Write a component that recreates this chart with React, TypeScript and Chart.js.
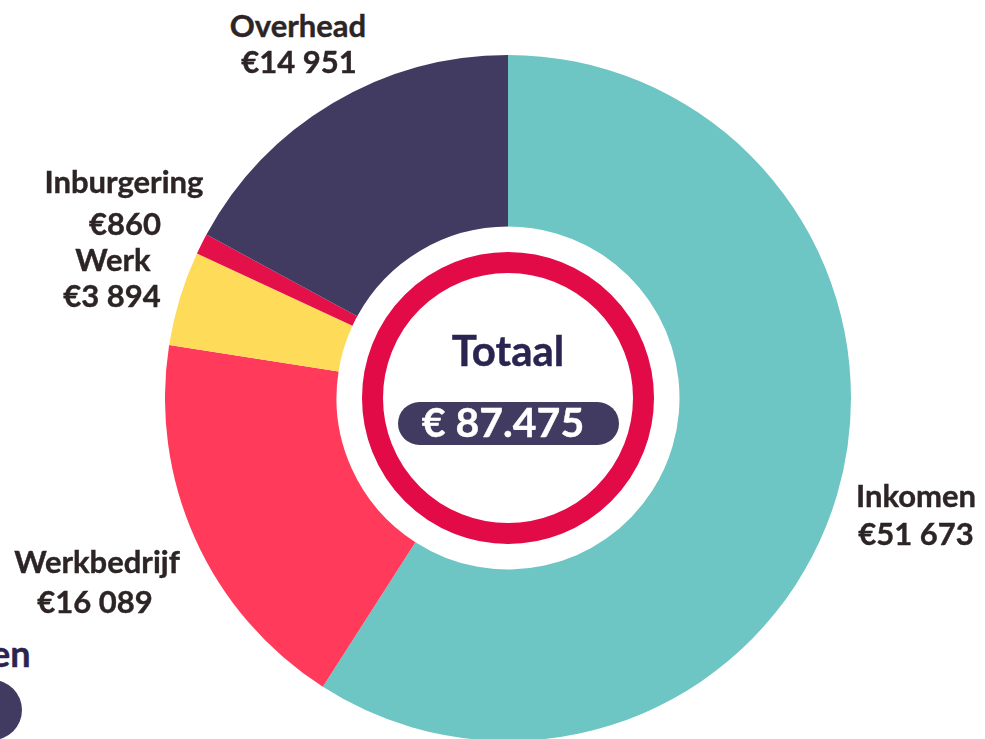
import React, { useEffect, useRef } from "react";
import { Chart, registerables } from "chart.js";

Chart.register(...registerables);

const categories = ["Inkomen", "Werkbedrijf", "Werk", "Inburgering", "Overhead"];
const amounts = [51673, 16089, 3894, 860, 14951];
const sliceColors = ["#6DC5C4", "#FF3A5B", "#FEDB58", "#E4104A", "#413A61"];
const totalLabel = "Totaal";
const totalAmount = 87475;

const fmtSpace = (v: number) => "€" + v.toLocaleString("en-US").replace(/,/g, " ");
const fmtDot = (v: number) => "€ " + v.toLocaleString("en-US").replace(/,/g, ".");

// label layout: center x, baseline y for name and value lines
const labelLayout: Record<string, { x: number; nameY: number; valX: number; valY: number }> = {
  Inkomen: { x: 916, nameY: 507, valX: 916, valY: 545 },
  Werkbedrijf: { x: 97, nameY: 573, valX: 95, valY: 613 },
  Werk: { x: 113, nameY: 271, valX: 112, valY: 307 },
  Inburgering: { x: 124, nameY: 193, valX: 125, valY: 235 },
  Overhead: { x: 298, nameY: 37, valX: 299, valY: 73 },
};

const FONT = "Lato, 'Open Sans', sans-serif";
const LABEL_SIZE = 31;
const ASC = 0.987;

function Line({ text, cx, baseline, size, color }: { text: string; cx: number; baseline: number; size: number; color: string }) {
  const top = baseline - size * ASC + (size * 1.2 - size) / 2;
  return (
    <div
      style={{
        position: "absolute",
        left: cx - 200,
        width: 400,
        top,
        textAlign: "center",
        fontFamily: FONT,
        fontWeight: 700,
        fontSize: size,
        lineHeight: size + "px",
        color,
        whiteSpace: "nowrap",
        WebkitTextStroke: "0.4px " + color,
      }}
    >
      {text}
    </div>
  );
}

export default function App() {
  const canvasRef = useRef<HTMLCanvasElement | null>(null);

  useEffect(() => {
    if (!canvasRef.current) return;
    const chart = new Chart(canvasRef.current, {
      type: "doughnut",
      data: {
        labels: categories,
        datasets: [
          {
            data: amounts,
            backgroundColor: sliceColors,
            borderWidth: 0,
          },
        ],
      },
      options: {
        responsive: false,
        animation: false,
        cutout: "50%",
        layout: { padding: 0 },
        plugins: {
          legend: { display: false },
          tooltip: { enabled: false },
        },
      },
    });
    return () => chart.destroy();
  }, []);

  return (
    <div
      style={{
        position: "fixed",
        left: 0,
        top: 0,
        width: 985,
        height: 739,
        overflow: "hidden",
        background: "#ffffff",
      }}
    >
      <canvas
        ref={canvasRef}
        width={686}
        height={686}
        style={{ position: "absolute", left: 165, top: 55, width: 686, height: 686 }}
      />
      {/* inner ring */}
      <div
        style={{
          position: "absolute",
          left: 362,
          top: 252,
          width: 292,
          height: 292,
          boxSizing: "border-box",
          border: "21px solid #E30B47",
          borderRadius: "50%",
        }}
      />
      <Line text={totalLabel} cx={508} baseline={366} size={42} color="#2A2450" />
      <div
        style={{
          position: "absolute",
          left: 398,
          top: 402,
          width: 221,
          height: 43,
          borderRadius: 22,
          background: "#413A61",
        }}
      />
      <Line text={fmtDot(totalAmount)} cx={503} baseline={437} size={41} color="#ffffff" />

      {categories.map((c, i) => {
        const l = labelLayout[c];
        return (
          <React.Fragment key={c}>
            <Line text={c} cx={l.x} baseline={l.nameY} size={LABEL_SIZE} color="#2D2426" />
            <Line text={fmtSpace(amounts[i])} cx={l.valX} baseline={l.valY} size={LABEL_SIZE} color="#2D2426" />
          </React.Fragment>
        );
      })}

      {/* partial elements from neighbouring content */}
      <div
        style={{
          position: "absolute",
          left: -9,
          top: 667 - 36 * ASC + (36 * 1.2 - 36) / 2,
          fontFamily: FONT,
          fontWeight: 700,
          fontSize: 36,
          lineHeight: "36px",
          color: "#2A2450",
          whiteSpace: "nowrap",
          WebkitTextStroke: "0.4px #2A2450",
        }}
      >
        en
      </div>
      <div
        style={{
          position: "absolute",
          left: -38,
          top: 680,
          width: 60,
          height: 60,
          borderRadius: "50%",
          background: "#413A61",
        }}
      />
    </div>
  );
}
